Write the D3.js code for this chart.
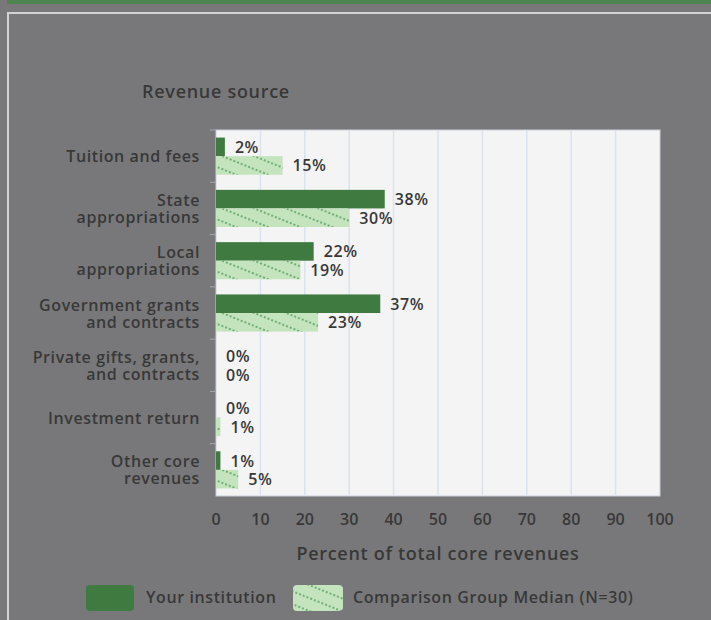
<!DOCTYPE html>
<html>
<head>
<meta charset="utf-8">
<script src="https://cdn.jsdelivr.net/npm/d3@7"></script>
<style>
  html, body { margin: 0; padding: 0; background: #78787a; }
  svg { display: block; }
  text { font-family: "Open Sans", "Liberation Sans", Arial, sans-serif; font-weight: 600; fill: #383838; letter-spacing: 0.6px; }
</style>
</head>
<body>
<div id="chart"></div>
<script>
// Revenue source - grouped horizontal bars
const categories = [
    ["Tuition and fees"],
    ["State", "appropriations"],
    ["Local", "appropriations"],
    ["Government grants", "and contracts"],
    ["Private gifts, grants,", "and contracts"],
    ["Investment return"],
    ["Other core", "revenues"]
];
const yourInstitution = [2, 38, 22, 37, 0, 0, 1];
const comparisonMedian = [15, 30, 19, 23, 0, 1, 5];
const xTicks = [0, 10, 20, 30, 40, 50, 60, 70, 80, 90, 100];
const seriesNames = ["Your institution", "Comparison Group Median (N=30)"];

const W = 711, H = 620;
const plot = { left: 216, top: 130, right: 660, bottom: 496 };
const darkGreen = "#3f7b40";
const lightGreen = "#c4e4be";

const svg = d3.select("#chart").append("svg")
    .attr("width", W)
    .attr("height", H);

// hatch pattern for comparison bars
const defs = svg.append("defs");
const pat = defs.append("pattern")
    .attr("id", "hatch")
    .attr("patternUnits", "userSpaceOnUse")
    .attr("width", 4)
    .attr("height", 12)
    .attr("patternTransform", "rotate(22)");
pat.append("rect").attr("width", 4).attr("height", 12).attr("fill", lightGreen);
pat.append("circle").attr("cx", 2).attr("cy", 6).attr("r", 0.9).attr("fill", "#4a944f");

// page frame
svg.append("rect").attr("x", 7).attr("y", 0).attr("width", W).attr("height", 4).attr("fill", "#4e8450");
svg.append("rect").attr("x", 8).attr("y", 13).attr("width", W + 20).attr("height", H + 20)
    .attr("fill", "none").attr("stroke", "#d2d2d2").attr("stroke-width", 2);

const rows = categories.map((c, i) => ({ key: i, label: c, vals: [yourInstitution[i], comparisonMedian[i]] }));

const x = d3.scaleLinear().domain([0, 100]).range([plot.left, plot.right]);
const y = d3.scaleBand()
    .domain(rows.map(d => d.key))
    .range([plot.top, plot.bottom])
    .paddingInner(0.29)
    .paddingOuter(0.145);
const ySub = d3.scaleBand().domain([0, 1]).range([0, y.bandwidth()]);

// plot background
svg.append("rect")
    .attr("x", plot.left).attr("y", plot.top)
    .attr("width", plot.right - plot.left).attr("height", plot.bottom - plot.top)
    .attr("fill", "#f4f4f4")
    .attr("stroke", "#c9ced9").attr("stroke-width", 1);

// gridlines
svg.selectAll(".grid")
    .data(xTicks.slice(1, -1))
    .enter().append("line")
    .attr("x1", d => x(d)).attr("x2", d => x(d))
    .attr("y1", plot.top).attr("y2", plot.bottom)
    .attr("stroke", "#dbe2f0").attr("stroke-width", 1.5);

// y ticks at band boundaries
const step = y.step();
const bounds = d3.range(categories.length).map(i => y(i) - step * 0.145);
svg.selectAll(".ytick")
    .data(bounds)
    .enter().append("line")
    .attr("x1", plot.left - 6).attr("x2", plot.left)
    .attr("y1", d => d).attr("y2", d => d)
    .attr("stroke", "#a4a8b0");

// bars
const g = svg.selectAll(".row")
    .data(rows)
    .enter().append("g")
    .attr("transform", d => `translate(0,${y(d.key)})`);

g.selectAll("rect")
    .data(d => d.vals)
    .enter().append("rect")
    .attr("x", x(0))
    .attr("y", (v, i) => ySub(i))
    .attr("width", v => x(v) - x(0))
    .attr("height", ySub.bandwidth())
    .attr("fill", (v, i) => i === 0 ? darkGreen : "url(#hatch)");

g.selectAll(".val")
    .data(d => d.vals)
    .enter().append("text")
    .attr("x", v => x(v) + 10)
    .attr("y", (v, i) => ySub(i) + ySub.bandwidth() / 2)
    .attr("dominant-baseline", "central")
    .style("font-size", "16px")
    .text(v => v + "%");

// category labels
const lab = svg.selectAll(".cat")
    .data(rows)
    .enter().append("text")
    .attr("text-anchor", "end")
    .style("font-size", "16px");
lab.each(function(d) {
    const t = d3.select(this);
    const cy = y(d.key) + y.bandwidth() / 2;
    const lh = 17;
    d.label.forEach((s, i) => {
        t.append("tspan")
            .attr("x", 200)
            .attr("y", cy + (i - (d.label.length - 1) / 2) * lh)
            .attr("dominant-baseline", "central")
            .text(s);
    });
});

// x tick labels
svg.selectAll(".xlab")
    .data(xTicks)
    .enter().append("text")
    .attr("x", d => x(d))
    .attr("y", 519)
    .attr("text-anchor", "middle")
    .attr("dominant-baseline", "central")
    .style("font-size", "16px")
    .style("letter-spacing", "0px")
    .text(d => d);

// titles
svg.append("text")
    .attr("x", (plot.left + plot.right) / 2).attr("y", 553)
    .attr("text-anchor", "middle").attr("dominant-baseline", "central")
    .style("font-size", "18px")
    .style("letter-spacing", "0.7px")
    .text("Percent of total core revenues");
svg.append("text")
    .attr("x", 216).attr("y", 91)
    .attr("text-anchor", "middle").attr("dominant-baseline", "central")
    .style("font-size", "18px")
    .style("letter-spacing", "0.7px")
    .text("Revenue source");

// legend
const legendX = [86, 293];
const leg = svg.selectAll(".leg")
    .data(seriesNames)
    .enter().append("g")
    .attr("transform", (d, i) => `translate(${legendX[i]},585)`);
leg.append("rect")
    .attr("width", (d, i) => i === 0 ? 48 : 50)
    .attr("height", 26)
    .attr("rx", 4)
    .attr("fill", (d, i) => i === 0 ? darkGreen : "url(#hatch)");
leg.append("text")
    .attr("x", 60)
    .attr("y", 12)
    .attr("dominant-baseline", "central")
    .style("font-size", "16px")
    .text(d => d);
</script>
</body>
</html>
